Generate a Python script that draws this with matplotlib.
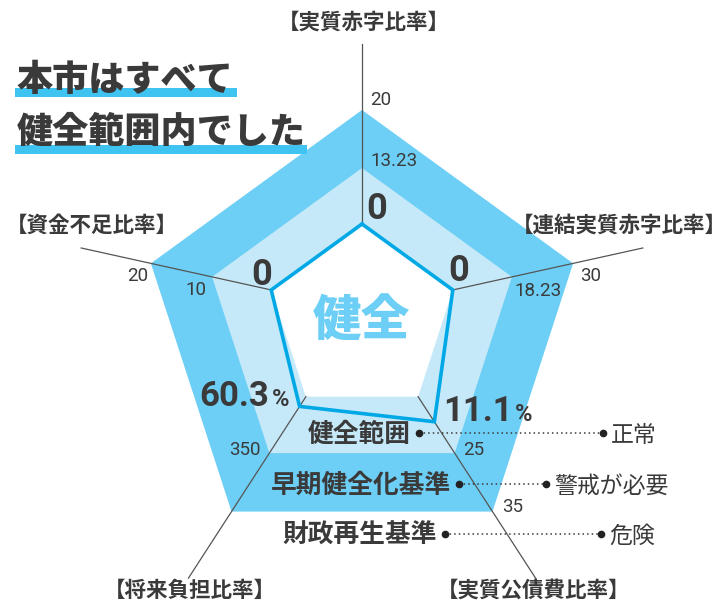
import numpy as np
import matplotlib
matplotlib.use("Agg")
import matplotlib.pyplot as plt
from matplotlib.patches import Polygon, Rectangle

# ---------------- data ----------------
axis_names = ["【実質赤字比率】", "【連結実質赤字比率】", "【実質公債費比率】",
              "【将来負担比率】", "【資金不足比率】"]
values = [0, 0, 11.1, 60.3, 0]
value_labels = ["0", "0", "11.1", "60.3", "0"]
value_units = ["", "", "%", "%", ""]
early_std = [13.23, 18.23, 25, 350, 10]          # 早期健全化基準
early_labels = ["13.23", "18.23", "25", "350", "10"]
rebuild_labels = ["20", "30", "35", "", "20"]    # 財政再生基準
title_lines = ["本市はすべて", "健全範囲内でした"]
center_text = "健全"
legend_names = ["健全範囲", "早期健全化基準", "財政再生基準"]
legend_meaning = ["正常", "警戒が必要", "危険"]

# ---------------- style ----------------
DARK = "#6dcff6"
LIGHT = "#c6e9f9"
LINE = "#00a9e6"
ULINE = "#3fc3f1"
TXT = "#3a3a3a"
JP = ["Noto Sans CJK JP", "DejaVu Sans"]
NUM = ["Roboto", "DejaVu Sans"]

CX, CY, R, OFF = 362, 310, 222, 0.099
S_ZERO, S_EARLY, S_OUTER, S_AXIS = 0.43, 0.71, 1.0, 1.33
N = len(axis_names)


def vert(k, s):
    th = np.radians(72 * k)
    return CX + s * R * np.sin(th), CY + s * R * (-np.cos(th) + OFF)


def ring(s):
    return [vert(k, s) for k in range(N)]


fig = plt.figure(figsize=(7.25, 6.05), dpi=100)
ax = fig.add_axes([0, 0, 1, 1])
ax.set_xlim(0, 725)
ax.set_ylim(605, 0)
ax.axis("off")

# background bands
ax.add_patch(Polygon(ring(S_OUTER), closed=True, fc=DARK, ec="none", zorder=1))
ax.add_patch(Polygon(ring(S_EARLY), closed=True, fc=LIGHT, ec="none", zorder=2))
ax.add_patch(Polygon(ring(S_ZERO), closed=True, fc="white", ec="none", zorder=3))

# axis lines
for k in range(N):
    x0, y0 = vert(k, S_ZERO)
    x1, y1 = vert(k, S_AXIS)
    ax.plot([x0, x1], [y0, y1], color="#555555", lw=0.9, zorder=4)

# data polygon
data_s = [S_ZERO + (S_EARLY - S_ZERO) * v / e for v, e in zip(values, early_std)]
pts = [vert(k, s) for k, s in enumerate(data_s)]
px = [p[0] for p in pts] + [pts[0][0]]
py = [p[1] for p in pts] + [pts[0][1]]
ax.plot(px, py, color=LINE, lw=2.6, zorder=6, solid_joinstyle="miter")

# center text
ax.text(CX - 1, 321, center_text, family=JP, fontsize=35, fontweight="black",
        color=DARK, ha="center", va="center", zorder=7)

# scale labels (offsets from vertices)
early_off = [(8, -7, "left"), (3, 14, "left"), (8, -3, "left"), (-9, -3, "right"), (-6, 13, "right")]
outer_off = [(8, -10, "left"), (7, 13, "left"), (10, -5, "left"), (0, 0, "left"), (-3, 13, "right")]
for k in range(N):
    x, y = vert(k, S_EARLY)
    dx, dy, ha = early_off[k]
    ax.text(x + dx, y + dy, early_labels[k], family=NUM, fontsize=13.5,
            color=TXT, ha=ha, va="center", zorder=8)
    if rebuild_labels[k]:
        x, y = vert(k, S_OUTER)
        dx, dy, ha = outer_off[k]
        ax.text(x + dx, y + dy, rebuild_labels[k], family=NUM, fontsize=13.5,
                color=TXT, ha=ha, va="center", zorder=8)

# value labels
fig.canvas.draw()
renderer = fig.canvas.get_renderer()
val_pos = [(15, -5, "center"), (6, -9, "center"), (9, -1, "left"), (-10, 0, "right"), (-10, -5, "center")]
for k in range(N):
    x, y = pts[k]
    dx, dy, ha = val_pos[k]
    if value_units[k] == "":
        ax.text(x + dx, y + dy, value_labels[k], family=NUM, fontsize=26,
                fontweight="bold", color=TXT, ha=ha, va="baseline", zorder=8)
    elif ha == "left":
        t = ax.text(x + dx, y + dy, value_labels[k], family=NUM, fontsize=25,
                    fontweight="bold", color=TXT, ha="left", va="baseline", zorder=8)
        w = t.get_window_extent(renderer).width
        ax.text(x + dx + w + 2, y + dy, value_units[k], family=NUM, fontsize=17,
                fontweight="bold", color=TXT, ha="left", va="baseline", zorder=8)
    else:
        t = ax.text(x + dx, y + dy, value_units[k], family=NUM, fontsize=17,
                    fontweight="bold", color=TXT, ha="right", va="baseline", zorder=8)
        w = t.get_window_extent(renderer).width
        ax.text(x + dx - w - 3, y + dy, value_labels[k], family=NUM, fontsize=25,
                fontweight="bold", color=TXT, ha="right", va="baseline", zorder=8)

# axis names
name_pos = [(364, 22), (619, 225), (534, 590), (190, 590), (92, 225)]
for k in range(N):
    ax.text(name_pos[k][0], name_pos[k][1], axis_names[k], family=JP, fontsize=15.5,
            fontweight="bold", color=TXT, ha="center", va="center", zorder=8)

# title with underline bars
title_y = [80, 132]
bar_rng = [(15, 237, 88, 97), (15, 307, 145, 154)]
for line, ty, (bx0, bx1, by0, by1) in zip(title_lines, title_y, bar_rng):
    ax.add_patch(Rectangle((bx0, by0), bx1 - bx0, by1 - by0, fc=ULINE, ec="none", zorder=8))
    ax.text(17, ty, line, family=JP, fontsize=26, fontweight="black", color=TXT,
            ha="left", va="center", zorder=9)

# legend
leg_y = [434, 485, 535]
leg_text_right = [411, 451, 437]
leg_end = [603, 546, 601]
for name, mean, y, xr, xe in zip(legend_names, legend_meaning, leg_y, leg_text_right, leg_end):
    ax.text(xr, y, name, family=JP, fontsize=18.5, fontweight="bold", color=TXT,
            ha="right", va="center", zorder=9)
    ax.plot([xr + 8, xe], [y - 1, y - 1], color=TXT, lw=1.1, ls=(0, (1, 2)), zorder=9)
    ax.plot([xr + 8, xe], [y - 1, y - 1], ls="none", marker="o", ms=4.5,
            color="#222222", zorder=10)
    ax.text(xe + 8, y + 1, mean, family=JP, fontsize=16.5, color=TXT,
            ha="left", va="center", zorder=9)

fig.savefig("out.png", dpi=100)
